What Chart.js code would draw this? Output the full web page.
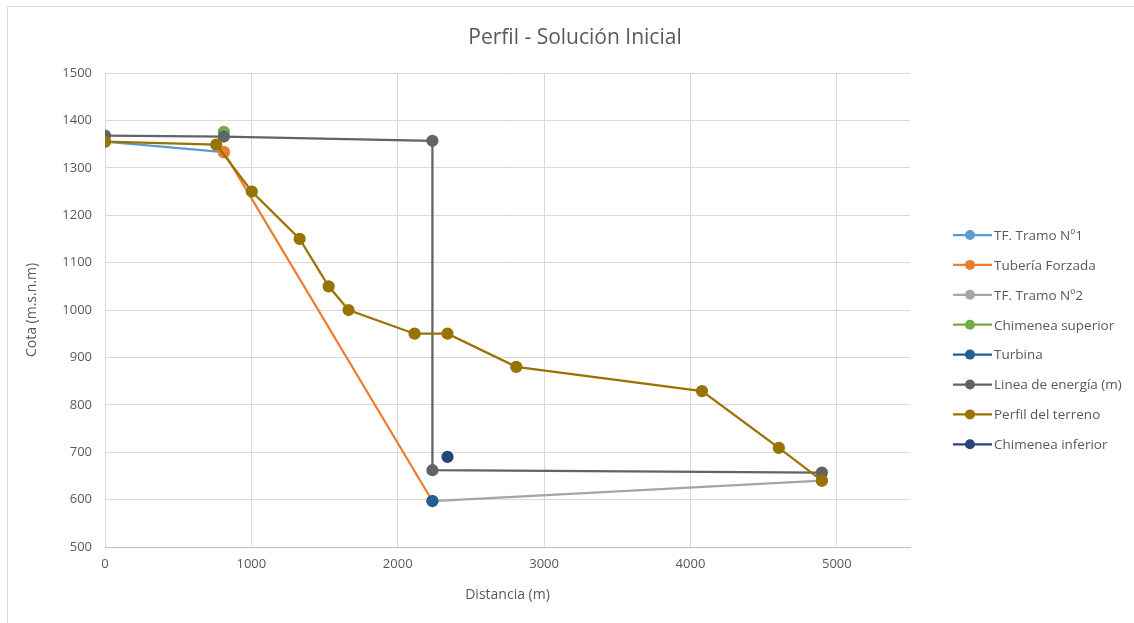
<!DOCTYPE html>
<html>
<head>
<meta charset="utf-8">
<script src="https://cdn.jsdelivr.net/npm/chart.js@4/dist/chart.umd.min.js"></script>
<style>
  html, body { margin: 0; padding: 0; background: #ffffff; }
  #wrap { position: relative; width: 1134px; height: 623px; }
  canvas { display: block; }
</style>
</head>
<body>
<div id="wrap"><canvas id="c" width="1134" height="623"></canvas></div>
<script>
// Series data (distance in m, elevation in m.s.n.m)
const tfTramo1X = [0, 812];
const tfTramo1Y = [1355, 1333];

const tuberiaX = [812, 2237];
const tuberiaY = [1333, 597];

const tfTramo2X = [2237, 4898];
const tfTramo2Y = [597, 640];

const chimeneaSupX = [812];
const chimeneaSupY = [1376];

const turbinaX = [2237];
const turbinaY = [597];

const energiaX = [0, 812, 2237, 2237, 4898];
const energiaY = [1368, 1366, 1357, 662, 657];

const terrenoX = [0, 760, 1003, 1330, 1528, 1664, 2115, 2340, 2810, 4079, 4604, 4898];
const terrenoY = [1355, 1349, 1250, 1150, 1050, 1000, 950, 950, 880, 829, 709, 640];

const chimeneaInfX = [2340];
const chimeneaInfY = [690];

const xTicks = [0, 1000, 2000, 3000, 4000, 5000];
const yTicks = [500, 600, 700, 800, 900, 1000, 1100, 1200, 1300, 1400, 1500];

const seriesNames = ['TF. Tramo Nº1', 'Tubería Forzada', 'TF. Tramo Nº2', 'Chimenea superior',
                     'Turbina', 'Linea de energía (m)', 'Perfil del terreno', 'Chimenea inferior'];
const seriesColors = ['#5B9BD5', '#ED7D31', '#A5A5A5', '#70AD47',
                      '#255E91', '#636363', '#997300', '#264478'];

const FONT = '"Open Sans", "Noto Sans", sans-serif';
const TEXT = '#595959';

function pts(xs, ys) { return xs.map((x, i) => ({ x: x, y: ys[i] })); }

const seriesPoints = [
  pts(tfTramo1X, tfTramo1Y),
  pts(tuberiaX, tuberiaY),
  pts(tfTramo2X, tfTramo2Y),
  pts(chimeneaSupX, chimeneaSupY),
  pts(turbinaX, turbinaY),
  pts(energiaX, energiaY),
  pts(terrenoX, terrenoY),
  pts(chimeneaInfX, chimeneaInfY)
];

const datasets = seriesNames.map((name, i) => ({
  label: name,
  data: seriesPoints[i],
  borderColor: seriesColors[i],
  backgroundColor: seriesColors[i],
  pointBackgroundColor: seriesColors[i],
  pointBorderColor: seriesColors[i],
  borderWidth: 2.25,
  pointRadius: 5,
  pointHoverRadius: 5,
  showLine: true,
  tension: 0,
  order: seriesNames.length - i
}));

// Frame, title and legend drawn on the canvas
const decorations = {
  id: 'decorations',
  beforeDraw(chart) {
    const ctx = chart.ctx;
    ctx.save();
    ctx.fillStyle = '#ffffff';
    ctx.fillRect(0, 0, chart.width, chart.height);
    ctx.strokeStyle = '#d9d9d9';
    ctx.lineWidth = 1;
    ctx.strokeRect(7.5, 6.5, chart.width + 20, chart.height + 20);
    ctx.restore();
  },
  afterDraw(chart) {
    const ctx = chart.ctx;
    ctx.save();
    ctx.fillStyle = TEXT;
    ctx.font = '21px ' + FONT;
    ctx.textAlign = 'center';
    ctx.textBaseline = 'middle';
    ctx.fillText('Perfil - Solución Inicial', 575, 38);

    ctx.font = '13.5px ' + FONT;
    ctx.textAlign = 'left';
    chart.data.datasets.forEach((ds, i) => {
      const y = 235 + i * 29.9;
      ctx.strokeStyle = ds.borderColor;
      ctx.lineWidth = 2.25;
      ctx.beginPath();
      ctx.moveTo(953, y);
      ctx.lineTo(992, y);
      ctx.stroke();
      ctx.fillStyle = ds.borderColor;
      ctx.beginPath();
      ctx.arc(970, y, 5, 0, Math.PI * 2);
      ctx.fill();
      ctx.fillStyle = TEXT;
      ctx.fillText(ds.label, 994, y + 1);
    });
    ctx.restore();
  }
};

new Chart(document.getElementById('c'), {
  type: 'scatter',
  data: { datasets: datasets },
  plugins: [decorations],
  options: {
    responsive: false,
    animation: false,
    devicePixelRatio: 1,
    layout: { padding: { left: 20, right: 224, top: 73, bottom: 16 } },
    plugins: {
      legend: { display: false },
      title: { display: false },
      tooltip: { enabled: false }
    },
    scales: {
      x: {
        type: 'linear',
        min: 0,
        max: 5500,
        afterBuildTicks(axis) { axis.ticks = xTicks.map(v => ({ value: v })); },
        afterFit(axis) { axis.height = 60; },
        grid: { color: '#d9d9d9', lineWidth: 1, drawTicks: false },
        border: { color: '#bfbfbf', width: 1 },
        ticks: { color: TEXT, font: { family: FONT, size: 13 }, padding: 9, callback: v => String(v) },
        title: { display: true, text: 'Distancia (m)', color: TEXT, font: { family: FONT, size: 14 }, padding: { top: 4 } }
      },
      y: {
        type: 'linear',
        min: 500,
        max: 1500,
        afterBuildTicks(axis) { axis.ticks = yTicks.map(v => ({ value: v })); },
        afterFit(axis) { axis.width = 85; },
        grid: { color: '#d9d9d9', lineWidth: 1, drawTicks: false },
        border: { display: false },
        ticks: { color: TEXT, font: { family: FONT, size: 13 }, padding: 13, callback: v => String(v) },
        title: { display: true, text: 'Cota (m.s.n.m)', color: TEXT, font: { family: FONT, size: 14 }, padding: { bottom: 6 } }
      }
    }
  }
});
</script>
</body>
</html>
